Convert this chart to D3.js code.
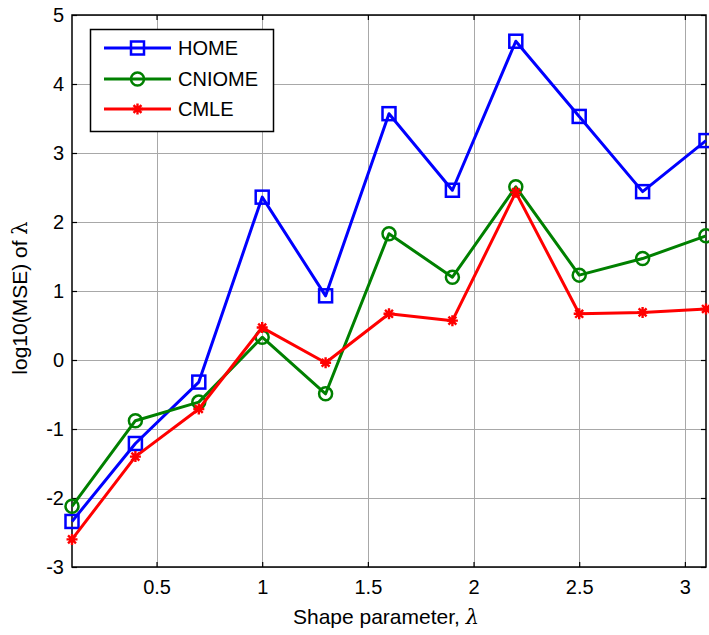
<!DOCTYPE html>
<html>
<head>
<meta charset="utf-8">
<script src="https://cdnjs.cloudflare.com/ajax/libs/d3/7.8.5/d3.min.js"></script>
<style>
  html, body { margin: 0; padding: 0; background: #fff; }
  svg { display: block; font-family: "Liberation Sans", Arial, sans-serif; }
</style>
</head>
<body>
<svg id="chart" width="709" height="635"></svg>
<script>
// Shape parameter values
const shapeParams = [0.1, 0.4, 0.7, 1.0, 1.3, 1.6, 1.9, 2.2, 2.5, 2.8, 3.1];
// log10(MSE) of lambda for each estimator
const homeValues   = [-2.34, -1.21, -0.32, 2.36, 0.93, 3.57, 2.46, 4.62, 3.53, 2.44, 3.18];
const cniomeValues = [-2.12, -0.88, -0.61, 0.33, -0.49, 1.83, 1.20, 2.51, 1.23, 1.47, 1.80];
const cmleValues   = [-2.60, -1.40, -0.71, 0.47, -0.04, 0.67, 0.57, 2.43, 0.67, 0.69, 0.74];
const seriesNames  = ["HOME", "CNIOME", "CMLE"];
const xTicks = [0.5, 1, 1.5, 2, 2.5, 3];
const yTicks = [-3, -2, -1, 0, 1, 2, 3, 4, 5];

(function () {
const svg = d3.select("#chart");
const pL = 72, pR = 706, pT = 15, pB = 567;

const x = d3.scaleLinear().domain([0.1, 3.1]).range([pL, pR]);
const y = d3.scaleLinear().domain([-3, 5]).range([pB, pT]);

// grid
const grid = svg.append("g").attr("stroke", "#a8a8a8").attr("stroke-width", 1);
xTicks.forEach(t => grid.append("line")
  .attr("x1", Math.round(x(t)) + 0.5).attr("x2", Math.round(x(t)) + 0.5)
  .attr("y1", pT).attr("y2", pB));
yTicks.forEach(t => grid.append("line")
  .attr("x1", pL).attr("x2", pR)
  .attr("y1", Math.round(y(t)) + 0.5).attr("y2", Math.round(y(t)) + 0.5));

// axes with inward ticks on all four sides; plain hyphen for negatives
const fs = 20;
const plain = d => String(d);
const xAxisB = d3.axisBottom(x).tickValues(xTicks).tickSizeInner(-5).tickSizeOuter(0).tickPadding(13).tickFormat(plain);
const xAxisT = d3.axisTop(x).tickValues(xTicks).tickSizeInner(-5).tickSizeOuter(0).tickFormat("");
const yAxisL = d3.axisLeft(y).tickValues(yTicks).tickSizeInner(-5).tickSizeOuter(0).tickPadding(8).tickFormat(plain);
const yAxisR = d3.axisRight(y).tickValues(yTicks).tickSizeInner(-5).tickSizeOuter(0).tickFormat("");

function styleAxis(g) {
  g.select(".domain").remove();
  g.selectAll("line").attr("stroke", "#000").attr("stroke-width", 1.2);
  g.selectAll("text").attr("fill", "#000").style("font-size", fs + "px").style("font-family", "Liberation Sans, Arial, sans-serif");
}
svg.append("g").attr("transform", `translate(0,${pB})`).call(xAxisB).call(styleAxis);
svg.append("g").attr("transform", `translate(0,${pT})`).call(xAxisT).call(styleAxis);
svg.append("g").attr("transform", `translate(${pL},0)`).call(yAxisL).call(styleAxis);
svg.append("g").attr("transform", `translate(${pR},0)`).call(yAxisR).call(styleAxis);

// plot box
svg.append("rect").attr("x", pL).attr("y", pT)
  .attr("width", pR - pL).attr("height", pB - pT)
  .attr("fill", "none").attr("stroke", "#000").attr("stroke-width", 1.5);

// marker drawing helper
function drawMarker(g, type, cx, cy, color) {
  if (type === "square") {
    g.append("rect").attr("x", cx - 6.5).attr("y", cy - 6.5).attr("width", 13).attr("height", 13)
      .attr("fill", "none").attr("stroke", color).attr("stroke-width", 2.5);
  } else if (type === "circle") {
    g.append("circle").attr("cx", cx).attr("cy", cy).attr("r", 6.5)
      .attr("fill", "none").attr("stroke", color).attr("stroke-width", 2.5);
  } else {
    const r = 5.5;
    const p = d3.path();
    p.moveTo(cx - r, cy); p.lineTo(cx + r, cy);
    p.moveTo(cx, cy - r); p.lineTo(cx, cy + r);
    const d = r * 0.72;
    p.moveTo(cx - d, cy - d); p.lineTo(cx + d, cy + d);
    p.moveTo(cx - d, cy + d); p.lineTo(cx + d, cy - d);
    g.append("path").attr("d", p.toString()).attr("stroke", color).attr("stroke-width", 2.4).attr("fill", "none");
  }
}

const series = [
  { name: seriesNames[0], values: homeValues, color: "#0000ff", marker: "square" },
  { name: seriesNames[1], values: cniomeValues, color: "#008000", marker: "circle" },
  { name: seriesNames[2], values: cmleValues, color: "#ff0000", marker: "star" }
];

const line = d3.line().x(d => x(d[0])).y(d => y(d[1]));
const plot = svg.append("g");
series.forEach(s => {
  const pts = shapeParams.map((p, i) => [p, s.values[i]]);
  plot.append("path").attr("d", line(pts)).attr("fill", "none")
    .attr("stroke", s.color).attr("stroke-width", 3).attr("stroke-linejoin", "round");
  pts.forEach(pt => drawMarker(plot, s.marker, x(pt[0]), y(pt[1]), s.color));
});

// legend
const lg = svg.append("g");
lg.append("rect").attr("x", 90.5).attr("y", 29.5).attr("width", 183).attr("height", 102)
  .attr("fill", "#fff").attr("stroke", "#000").attr("stroke-width", 1.5);
const rowsY = [48, 79, 109];
series.forEach((s, i) => {
  const ry = rowsY[i];
  lg.append("line").attr("x1", 104).attr("x2", 171).attr("y1", ry).attr("y2", ry)
    .attr("stroke", s.color).attr("stroke-width", 3);
  drawMarker(lg, s.marker, 137.5, ry, s.color);
  lg.append("text").attr("x", 178).attr("y", ry).attr("dy", "0.36em")
    .style("font-size", fs + "px").attr("fill", "#000").text(s.name);
});

// axis labels
const xl = svg.append("text").attr("x", 386).attr("y", 624)
  .attr("text-anchor", "middle").style("font-size", "21px").attr("fill", "#000");
xl.append("tspan").text("Shape parameter, ");
xl.append("tspan").style("font-family", "DejaVu Serif, serif").style("font-style", "italic").text("λ");

const yl = svg.append("text").attr("transform", `translate(27,298) rotate(-90)`)
  .attr("text-anchor", "middle").style("font-size", "21px").attr("fill", "#000");
yl.append("tspan").text("log10(MSE) of ");
yl.append("tspan").style("font-family", "DejaVu Serif, serif").text("λ");
})();
</script>
</body>
</html>
